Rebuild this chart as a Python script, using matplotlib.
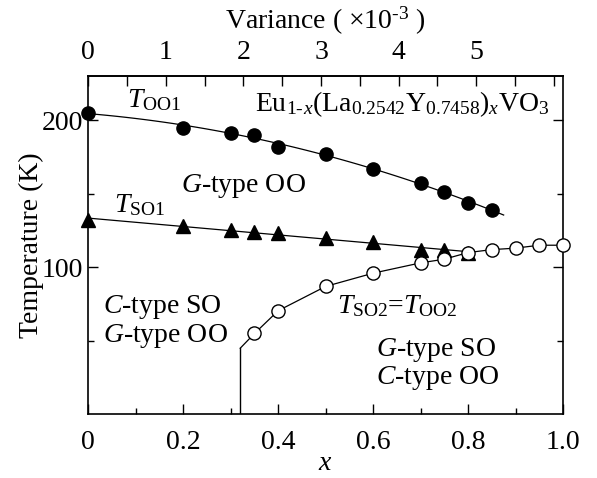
import numpy as np
import matplotlib
matplotlib.use("Agg")
import matplotlib.pyplot as plt
from matplotlib.ticker import MultipleLocator, FixedLocator, FixedFormatter

plt.rcParams['font.family'] = ['Liberation Serif', 'DejaVu Serif']
plt.rcParams['mathtext.fontset'] = 'custom'
plt.rcParams['mathtext.rm'] = 'Liberation Serif'
plt.rcParams['mathtext.it'] = 'Liberation Serif:italic'
plt.rcParams['font.size'] = 20

# T_OO1 (filled circles)
x_oo1 = [0, 0.2, 0.3, 0.35, 0.4, 0.5, 0.6, 0.7, 0.75, 0.8, 0.85]
t_oo1 = [205, 195, 191, 190, 182, 177, 167, 157, 151, 144, 139]

# T_SO1 (filled triangles)
x_so1 = [0, 0.2, 0.3, 0.35, 0.4, 0.5, 0.6, 0.7, 0.75, 0.8]
t_so1 = [132, 128, 125, 124, 123, 120, 117, 112, 112, 110]

# T_SO2 = T_OO2 (open circles)
x_so2 = [0.35, 0.4, 0.5, 0.6, 0.7, 0.75, 0.8, 0.85, 0.9, 0.95, 1.0]
t_so2 = [55, 70.5, 87, 96, 103, 105.5, 110, 112, 113, 115, 115]

# phase boundary onset
x_c, t_c = 0.32, 45

var_max = 6.12  # variance (x1e-3) at x = 1.0

fig = plt.figure(figsize=(5.97, 4.78), dpi=100)
ax = fig.add_axes([0.148, 0.133, 0.795, 0.708])

# fitted guide lines
p1 = np.polyfit(x_oo1, t_oo1, 2)
xf1 = np.linspace(0, 0.875, 100)
ax.plot(xf1, np.polyval(p1, xf1), color='black', lw=0.9, zorder=2)
p2 = np.polyfit(x_so1, t_so1, 1)
xf2 = np.linspace(0, 0.8, 50)
ax.plot(xf2, np.polyval(p2, xf2), color='black', lw=0.9, zorder=2)

ax.plot([x_c, x_c], [0, t_c], color='black', lw=1.0, zorder=2)
ax.plot([x_c] + x_so2, [t_c] + t_so2, color='black', lw=0.9, zorder=2)

ax.plot(x_so1, t_so1, ls='none', marker='^', ms=10, color='black',
        zorder=3, clip_on=False)
ax.plot(x_oo1, t_oo1, ls='none', marker='o', ms=9.5, color='black',
        zorder=4, clip_on=False)
ax.plot(x_so2, t_so2, ls='none', marker='o', ms=9.5, mfc='white',
        mec='black', mew=1.0, zorder=5, clip_on=False)

ax.set_xlim(0, 1.0)
ax.set_ylim(0, 230)

ax.xaxis.set_major_locator(FixedLocator([0, 0.2, 0.4, 0.6, 0.8, 1.0]))
ax.xaxis.set_major_formatter(FixedFormatter(['0', '0.2', '0.4', '0.6', '0.8', '1.0']))
ax.xaxis.set_minor_locator(MultipleLocator(0.1))
ax.yaxis.set_major_locator(FixedLocator([100, 200]))
ax.yaxis.set_minor_locator(FixedLocator([50, 150]))

ax.tick_params(which='both', direction='in', top=False, right=True, width=1.0)
ax.tick_params(which='major', length=7)
ax.tick_params(which='minor', length=4.5)
ax.tick_params(axis='x', which='major', pad=11)
ax.tick_params(axis='y', which='major', pad=4)
for s in ax.spines.values():
    s.set_linewidth(1.2)

ax.set_xlabel('$x$', labelpad=-3)
ax.set_ylabel('Temperature (K)', labelpad=-2)

top = ax.secondary_xaxis('top', functions=(lambda x: x * var_max, lambda v: v / var_max))
top.xaxis.set_major_locator(FixedLocator([0, 1, 2, 3, 4, 5]))
top.xaxis.set_minor_locator(MultipleLocator(0.5))
top.tick_params(which='both', direction='in', width=1.0)
top.tick_params(which='major', length=7, pad=8)
top.tick_params(which='minor', length=7)
top.spines['top'].set_linewidth(1.2)
top.set_xlabel(r'Variance ( $\times$10$^{\rm \text{-}3}$ )', labelpad=8)

ax.text(0.082, 209, r'$T_{\rm OO1}$', va='baseline')
ax.text(0.351, 205.9,
        r'Eu$_{\rm 1\text{-}}$$_{x}$(La$_{\rm 0.2542}$Y$_{\rm 0.7458}$)$_{x}$VO$_{\rm 3}$',
        va='baseline')
ax.text(0.196, 151.4, r'$G$-type OO', va='baseline')
ax.text(0.054, 137.8, r'$T_{\rm SO1}$', va='baseline')
ax.text(0.031, 68.7, r'$C$-type SO', va='baseline')
ax.text(0.031, 49.4, r'$G$-type OO', va='baseline')
ax.text(0.524, 68.7, r'$T_{\rm SO2}$=$T_{\rm OO2}$', va='baseline')
ax.text(0.607, 39.7, r'$G$-type SO', va='baseline')
ax.text(0.607, 20.6, r'$C$-type OO', va='baseline')

fig.savefig('out.png', dpi=100)
